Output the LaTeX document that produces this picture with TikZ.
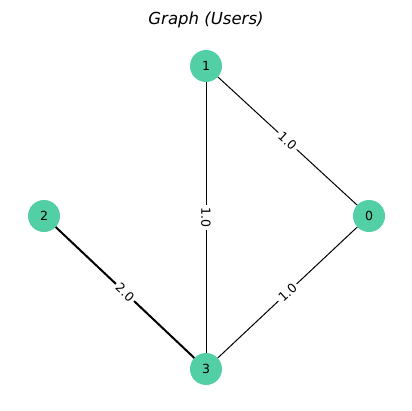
\documentclass[tikz,border=0pt]{standalone}
\usepackage{fontspec}
\setmainfont{DejaVu Sans}
\definecolor{nodegreen}{RGB}{82,207,164}
\pgfdeclarelayer{background}
\pgfsetlayers{background,main}
\begin{document}
\begin{tikzpicture}[x=0.75pt,y=-0.75pt,
  vertex/.style={circle,fill=nodegreen,draw=none,minimum size=24pt,inner sep=0pt,font=\fontsize{9.4}{10}\selectfont},
  edge/.style={black,line width=0.75pt},
  heavy/.style={black,line width=1.5pt},
  wlabel/.style={fill=white,inner sep=1.8pt,rounded corners=2pt,font=\fontsize{9.4}{10}\selectfont}]
\useasboundingbox (0,0) rectangle (411,411);
\node[font=\itshape\fontsize{12.4}{14}\selectfont] (title) at (206,20) {Graph (Users)};
% vertices
\node[vertex] (n1) at (206,66) {1};
\node[vertex] (n0) at (369,216) {0};
\node[vertex] (n2) at (44,216) {2};
\node[vertex] (n3) at (206,369) {3};
% edges behind the vertices, each with its weight at the midpoint
\begin{pgfonlayer}{background}
\draw[edge] (n1.center) -- (n0.center) node[midway,wlabel,rotate=-42.6] (w10) {1.0};
\draw[edge] (n1.center) -- (n3.center) node[midway,wlabel,rotate=-90] (w13) {1.0};
\draw[edge] (n3.center) -- (n0.center) node[midway,wlabel,rotate=42.6] (w30) {1.0};
\draw[heavy] (n2.center) -- (n3.center) node[midway,wlabel,rotate=-43.4] (w23) {2.0};
\end{pgfonlayer}
\end{tikzpicture}
\end{document}
